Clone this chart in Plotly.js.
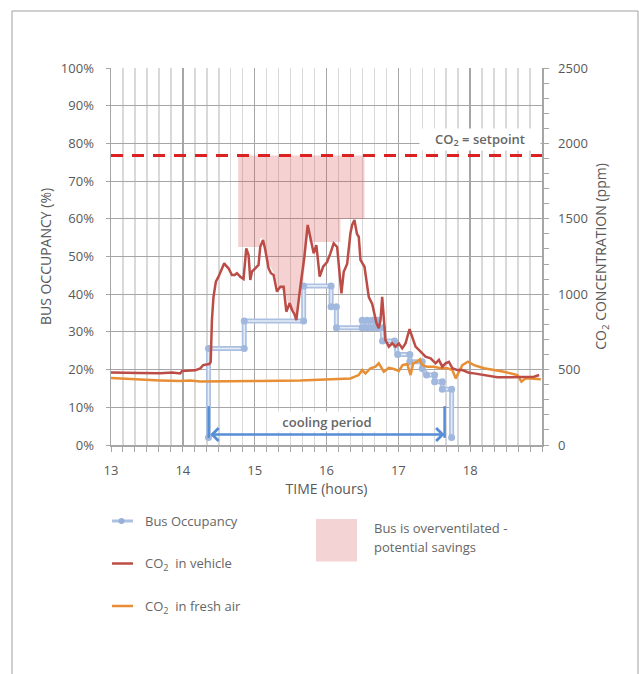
<!DOCTYPE html>
<html>
<head>
<meta charset="utf-8">
<script src="https://cdn.plot.ly/plotly-3.0.1.min.js"></script>
<style>html,body{margin:0;padding:0;background:#fff;}#chart{width:639px;height:674px;}</style>
</head>
<body>
<div id="chart"></div>
<script>
// ---- Data ----
const xTickVals = [13, 14, 15, 16, 17, 18];

// CO2 in vehicle (ppm) vs time (hours)
const co2Time = [13.0, 13.195, 13.404, 13.683, 13.851, 13.962, 13.99, 14.172, 14.241, 14.283, 14.367, 14.388, 14.395, 14.405, 14.427, 14.46, 14.497, 14.544, 14.576, 14.604, 14.636, 14.683, 14.72, 14.753, 14.799, 14.845, 14.862, 14.883, 14.915, 14.939, 14.962, 15.008, 15.054, 15.078, 15.116, 15.148, 15.194, 15.227, 15.264, 15.311, 15.357, 15.403, 15.441, 15.487, 15.52, 15.552, 15.58, 15.636, 15.692, 15.738, 15.785, 15.822, 15.859, 15.905, 15.953, 16.008, 16.054, 16.1, 16.148, 16.184, 16.208, 16.24, 16.287, 16.333, 16.357, 16.389, 16.424, 16.449, 16.473, 16.529, 16.589, 16.636, 16.668, 16.696, 16.728, 16.752, 16.775, 16.798, 16.821, 16.868, 16.915, 16.961, 17.007, 17.054, 17.1, 17.156, 17.194, 17.24, 17.31, 17.379, 17.449, 17.519, 17.565, 17.612, 17.658, 17.704, 17.752, 17.821, 17.891, 17.983, 18.053, 18.24, 18.379, 18.565, 18.75, 18.89, 18.96];
const co2Vehicle = [481, 481, 477, 475, 481, 474, 491, 495, 507, 530, 537, 550, 763, 829, 983, 1083, 1116, 1172, 1205, 1187, 1172, 1127, 1127, 1139, 1116, 1101, 1200, 1304, 1260, 1094, 1149, 1172, 1194, 1315, 1359, 1293, 1172, 1139, 1127, 1017, 1050, 1050, 884, 940, 895, 869, 829, 1050, 1249, 1459, 1359, 1271, 1326, 1116, 1182, 1213, 1271, 1337, 1313, 1116, 1006, 1149, 1200, 1404, 1459, 1492, 1399, 1381, 1227, 1182, 981, 935, 873, 807, 774, 829, 983, 851, 696, 652, 674, 652, 674, 641, 674, 769, 718, 652, 619, 586, 575, 542, 564, 519, 542, 552, 509, 497, 497, 479, 475, 458, 449, 449, 453, 453, 464];

// CO2 in fresh air (ppm)
const freshTime = [13.0, 13.126, 13.335, 13.683, 13.962, 14.102, 14.241, 14.66, 15.078, 15.636, 16.054, 16.333, 16.449, 16.497, 16.543, 16.612, 16.682, 16.728, 16.798, 16.868, 16.937, 17.007, 17.059, 17.124, 17.17, 17.208, 17.264, 17.3, 17.333, 17.403, 17.495, 17.589, 17.682, 17.752, 17.798, 17.844, 17.891, 17.969, 18.053, 18.192, 18.332, 18.471, 18.658, 18.714, 18.774, 18.89, 18.983];
const freshAir = [444, 441, 434, 428, 424, 428, 421, 421, 424, 428, 434, 441, 464, 497, 475, 509, 519, 542, 486, 511, 504, 491, 530, 537, 464, 542, 552, 568, 530, 519, 519, 509, 509, 497, 442, 486, 530, 552, 530, 509, 497, 486, 464, 420, 442, 436, 436];

// Bus occupancy (%) - step points
const occTime = [14.357, 14.357, 14.855, 14.855, 15.682, 15.682, 16.064, 16.064, 16.138, 16.138, 16.497, 16.497, 16.566, 16.566, 16.636, 16.636, 16.706, 16.706, 16.78, 16.78, 16.947, 16.99, 17.16, 17.16, 17.333, 17.333, 17.393, 17.505, 17.505, 17.612, 17.612, 17.742, 17.742];
const occPct = [2, 25.6, 25.6, 32.9, 32.9, 42.2, 42.2, 36.7, 36.7, 31.1, 31.1, 33.1, 33.1, 31.1, 31.1, 33.1, 33.1, 31.1, 31.1, 27.6, 27.6, 24.0, 24.0, 22.1, 22.1, 20.3, 18.6, 18.6, 16.8, 16.8, 14.8, 14.8, 2];

// Over-ventilation region (ppm outline)
const pinkTime = [14.771, 16.529, 16.529, 16.194, 16.194, 15.762, 15.748, 15.678, 15.632, 15.584, 15.515, 15.469, 15.423, 15.329, 15.283, 15.213, 15.162, 15.12, 15.074, 15.074, 14.771];
const pinkPpm = [1920, 1920, 1499, 1499, 1346, 1346, 1452, 1087, 997, 831, 889, 929, 1021, 1041, 1129, 1187, 1240, 1368, 1373, 1313, 1313];

const setpointPpm = 1920;
const setpointSpan = [13, 19];
const coolingStart = 14.36;
const coolingEnd = 17.644;

// ---- Styles ----
const GRID = '#a6a6a6';
const TXT = '#595959';
const FONT = 'Open Sans, sans-serif';

const traces = [
  {x: occTime, y: occPct, xaxis: 'x', yaxis: 'y', mode: 'lines', line: {color: 'rgb(172,193,225)', width: 5}, hoverinfo: 'skip'},
  {x: occTime, y: occPct, xaxis: 'x', yaxis: 'y', mode: 'lines', line: {color: 'rgb(228,235,246)', width: 1.6}, hoverinfo: 'skip'},
  {x: occTime, y: occPct, xaxis: 'x', yaxis: 'y', mode: 'markers', marker: {color: 'rgb(160,184,221)', size: 7}},
  {x: pinkTime, y: pinkPpm, xaxis: 'x', yaxis: 'y2', mode: 'lines', fill: 'toself', fillcolor: 'rgba(215,70,70,0.25)', line: {width: 0}, hoverinfo: 'skip'},
  {x: setpointSpan, y: [setpointPpm, setpointPpm], xaxis: 'x', yaxis: 'y2', mode: 'lines', line: {color: 'rgb(221,32,32)', width: 3, dash: '12px,9px'}},
  {x: freshTime, y: freshAir, xaxis: 'x', yaxis: 'y2', mode: 'lines', line: {color: 'rgb(232,142,52)', width: 2.5}},
  {x: co2Time, y: co2Vehicle, xaxis: 'x', yaxis: 'y2', mode: 'lines', line: {color: 'rgb(188,76,70)', width: 2.5}}
];

function px2paperX(px) { return (px - 111) / 431; }
function px2paperY(py) { return (445 - py) / 377; }

const legendLineX0 = px2paperX(112), legendLineX1 = px2paperX(133);
const shapes = [
  // outer frame
  {type: 'rect', xref: 'paper', yref: 'paper', x0: px2paperX(12), x1: px2paperX(638), y0: px2paperY(720), y1: px2paperY(11), line: {color: '#a0a0a0', width: 1}, fillcolor: 'rgba(0,0,0,0)', layer: 'below'},
  // cooling period end bars
  {type: 'line', xref: 'x', yref: 'y', x0: coolingStart, x1: coolingStart, y0: 1.9, y1: 10.3, line: {color: '#558ed5', width: 2.5}},
  {type: 'line', xref: 'x', yref: 'y', x0: coolingEnd, x1: coolingEnd, y0: 1.9, y1: 10.3, line: {color: '#558ed5', width: 2.5}},
  // legend samples
  {type: 'line', xref: 'paper', yref: 'paper', x0: legendLineX0, x1: legendLineX1, y0: px2paperY(521), y1: px2paperY(521), line: {color: 'rgb(172,193,225)', width: 3}},
  {type: 'circle', xref: 'paper', yref: 'paper', x0: px2paperX(118.5), x1: px2paperX(124.5), y0: px2paperY(524), y1: px2paperY(518), line: {width: 0}, fillcolor: 'rgb(150,176,216)'},
  {type: 'line', xref: 'paper', yref: 'paper', x0: legendLineX0, x1: legendLineX1, y0: px2paperY(563.5), y1: px2paperY(563.5), line: {color: 'rgb(188,76,70)', width: 2.5}},
  {type: 'line', xref: 'paper', yref: 'paper', x0: legendLineX0, x1: legendLineX1, y0: px2paperY(606), y1: px2paperY(606), line: {color: 'rgb(232,142,52)', width: 2.5}},
  {type: 'rect', xref: 'paper', yref: 'paper', x0: px2paperX(316), x1: px2paperX(357), y0: px2paperY(561.5), y1: px2paperY(519), line: {width: 0}, fillcolor: 'rgb(243,211,211)'}
];

const legFont = {family: FONT, size: 13, color: '#666666'};
const annotations = [
  {x: coolingEnd, y: 2.8, ax: coolingStart, ay: 2.8, xref: 'x', yref: 'y', axref: 'x', ayref: 'y', text: '', showarrow: true, arrowhead: 4, startarrowhead: 4, arrowside: 'end+start', arrowsize: 1, startarrowsize: 1, arrowwidth: 2.5, arrowcolor: '#558ed5', standoff: 0, startstandoff: 0},
  {x: (coolingStart + coolingEnd) / 2, y: 6.2, xref: 'x', yref: 'y', text: 'cooling period', showarrow: false, bgcolor: '#ffffff', width: 104, height: 17, font: {family: FONT, size: 13, color: '#666666', weight: 600}},
  {x: 18.13, y: 2027, xref: 'x', yref: 'y2', text: 'CO<sub>2</sub> = setpoint', showarrow: false, bgcolor: '#ffffff', width: 118, height: 19, font: {family: FONT, size: 13, color: '#666666', weight: 600}},
  {x: px2paperX(143), y: px2paperY(521), xref: 'paper', yref: 'paper', xanchor: 'left', yanchor: 'middle', text: 'Bus Occupancy', showarrow: false, font: legFont},
  {x: px2paperX(143), y: px2paperY(564), xref: 'paper', yref: 'paper', xanchor: 'left', yanchor: 'middle', text: 'CO<sub>2</sub>  in vehicle', showarrow: false, font: legFont},
  {x: px2paperX(143), y: px2paperY(607), xref: 'paper', yref: 'paper', xanchor: 'left', yanchor: 'middle', text: 'CO<sub>2</sub>  in fresh air', showarrow: false, font: legFont},
  {x: px2paperX(372), y: px2paperY(528), xref: 'paper', yref: 'paper', xanchor: 'left', yanchor: 'middle', text: 'Bus is overventilated -', showarrow: false, font: legFont},
  {x: px2paperX(372), y: px2paperY(547), xref: 'paper', yref: 'paper', xanchor: 'left', yanchor: 'middle', text: 'potential savings', showarrow: false, font: legFont}
];

const layout = {
  width: 639, height: 674,
  margin: {l: 111, r: 97, t: 68, b: 229, pad: 0},
  paper_bgcolor: '#ffffff', plot_bgcolor: '#ffffff',
  font: {family: FONT, size: 13, color: TXT},
  showlegend: false,
  xaxis: {
    range: [13, 19], tickmode: 'array', tickvals: xTickVals,
    showgrid: true, gridcolor: GRID, gridwidth: 1.5,
    ticks: 'outside', ticklen: 5, tickcolor: GRID, tickwidth: 1,
    showline: true, linecolor: GRID, linewidth: 1.5, zeroline: false,
    ticklabelstandoff: 8,
    tickfont: {family: FONT, size: 13, color: TXT},
    minor: {tick0: 13, dtick: 1/6, showgrid: true, gridcolor: '#d9d9d9', gridwidth: 1.5, ticks: 'outside', ticklen: 5, tickcolor: GRID},
    title: {text: 'TIME (hours)', standoff: 3, font: {family: FONT, size: 14, color: TXT}}
  },
  yaxis: {
    range: [0, 100], dtick: 10, ticksuffix: '%',
    showgrid: true, gridcolor: GRID, gridwidth: 1.2,
    ticks: 'outside', ticklen: 4, tickcolor: GRID,
    showline: true, linecolor: GRID, linewidth: 1.5, zeroline: false,
    ticklabelstandoff: 9,
    tickfont: {family: FONT, size: 13, color: TXT},
    title: {text: 'BUS OCCUPANCY (%)', standoff: 6, font: {family: FONT, size: 14, color: TXT}}
  },
  yaxis2: {
    overlaying: 'y', side: 'right', range: [0, 2500], dtick: 500,
    showgrid: false, zeroline: false,
    ticks: 'outside', ticklen: 5, tickcolor: GRID,
    showline: true, linecolor: GRID, linewidth: 1.5,
    ticklabelstandoff: 7,
    tickfont: {family: FONT, size: 13, color: TXT},
    minor: {dtick: 100, ticks: 'outside', ticklen: 5, tickcolor: GRID},
    title: {text: 'CO<sub>2</sub> CONCENTRATION (ppm)', standoff: 9, font: {family: FONT, size: 14, color: TXT}}
  },
  shapes: shapes,
  annotations: annotations
};

Plotly.newPlot('chart', traces, layout, {staticPlot: true, displayModeBar: false});
</script>
</body>
</html>
